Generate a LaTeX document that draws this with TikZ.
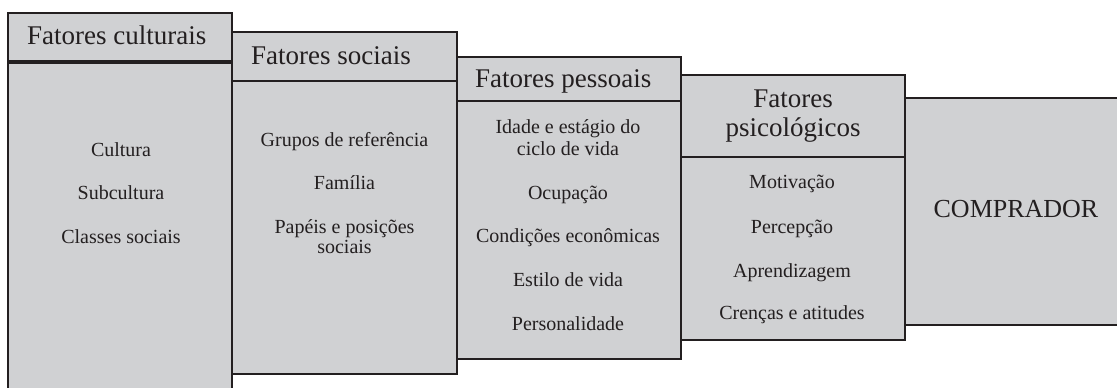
\documentclass[tikz,border=0pt]{standalone}
\usepackage{fontspec}
\setmainfont{Liberation Serif}
\definecolor{boxgray}{RGB}{208,209,211}
\definecolor{ink}{RGB}{35,31,32}
\tikzset{
  panel/.style={draw=ink, fill=boxgray, line width=2.6pt, anchor=north west,
    inner sep=0pt, outer sep=0pt},
  sepline/.style={draw=ink, line width=2.6pt},
  head/.style={font=\fontsize{27}{29}\selectfont, text=ink, inner sep=0pt},
  item/.style={font=\fontsize{20}{22}\selectfont, text=ink, inner sep=0pt, anchor=base, align=center},
  buyer/.style={font=\fontsize{26}{28}\selectfont, text=ink, inner sep=0pt, anchor=base},
}
\begin{document}
\begin{tikzpicture}[x=1pt, y=-1pt]
  \clip (0,0) rectangle (1117,388);
  \fill[white] (0,0) rectangle (1117,388);
  % panels
  \node[panel, minimum width=224pt, minimum height=420pt] (c1) at (8,13) {};
  \node[panel, minimum width=225pt, minimum height=342pt] (c2) at (232,32) {};
  \node[panel, minimum width=224pt, minimum height=302pt] (c3) at (457,57) {};
  \node[panel, minimum width=224pt, minimum height=265pt] (c4) at (681,75) {};
  \node[panel, minimum width=240pt, minimum height=227pt] (c5) at (905,98) {};
  % header separators
  \draw[sepline, line width=3.4pt] ([yshift=-49pt]c1.north west) -- ([yshift=-49pt]c1.north east);
  \draw[sepline] ([yshift=-49pt]c2.north west) -- ([yshift=-49pt]c2.north east);
  \draw[sepline] ([yshift=-44pt]c3.north west) -- ([yshift=-44pt]c3.north east);
  \draw[sepline] ([yshift=-82pt]c4.north west) -- ([yshift=-82pt]c4.north east);
  % headers
  \node[head, anchor=base west] (h1) at (27,45) {Fatores culturais};
  \node[head, anchor=base west] (h2) at (251,64) {Fatores sociais};
  \node[head, anchor=base west] (h3) at (475,87) {Fatores pessoais};
  \node[head, anchor=base] (h4a) at (793,107) {Fatores};
  \node[head, anchor=base] (h4b) at (793,136) {psicológicos};
  % items column 1
  \node[item] (a1) at (121,156) {Cultura};
  \node[item] (a2) at (121,199) {Subcultura};
  \node[item] (a3) at (121,243) {Classes sociais};
  % items column 2
  \node[item] (b1) at (344.5,146) {Grupos de referência};
  \node[item] (b2) at (344.5,189) {Família};
  \node[item] (b3) at (344.5,233) {Papéis e posições};
  \node[item] (b3b) at (344.5,253) {sociais};
  % items column 3
  \node[item] (p1) at (568,133) {Idade e estágio do};
  \node[item] (p1b) at (568,155) {ciclo de vida};
  \node[item] (p2) at (568,199) {Ocupação};
  \node[item] (p3) at (568,242) {Condições econômicas};
  \node[item] (p4) at (568,286) {Estilo de vida};
  \node[item] (p5) at (568,330) {Personalidade};
  % items column 4
  \node[item] (q1) at (792,188) {Motivação};
  \node[item] (q2) at (792,233) {Percepção};
  \node[item] (q3) at (792,277) {Aprendizagem};
  \node[item] (q4) at (792,319) {Crenças e atitudes};
  % buyer
  \node[buyer] (buyer) at (1016,217) {COMPRADOR};
\end{tikzpicture}
\end{document}
